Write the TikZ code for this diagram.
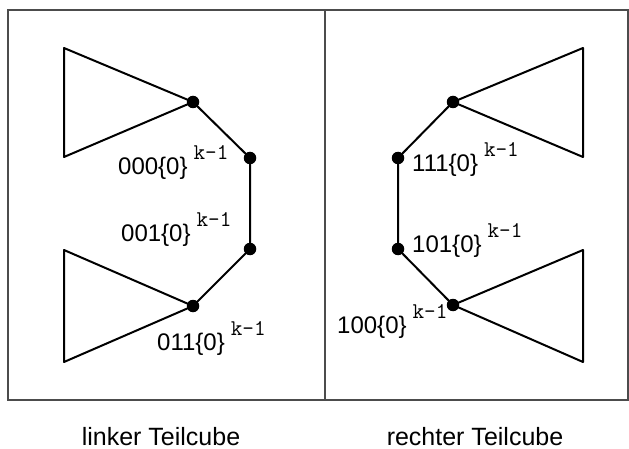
\documentclass[tikz,border=0pt]{standalone}
\usepackage{fontspec}
\setmainfont{Liberation Sans}
\newcommand{\lbl}[1]{#1\hspace{6pt}\raisebox{15pt}{\ttfamily\fontsize{22.5}{22.5}\selectfont k-1}}
\begin{document}
\begin{tikzpicture}[x=1pt,y=-1pt,
  edge/.style={line width=2pt, line join=round},
  frame/.style={line width=1.3pt, draw=black!70},
  dot/.style={circle, fill=black, inner sep=0pt, minimum size=12.5pt},
  lab/.style={anchor=base west, inner sep=0pt, font=\fontsize{24}{24}\selectfont},
  captext/.style={anchor=base, inner sep=0pt, font=\fontsize{25}{25}\selectfont}]
\useasboundingbox (0,0) rectangle (629,449);
% frame
\coordinate (fa) at (8,10);
\coordinate (fb) at (628,400);
\coordinate (ma) at (325,10);
\coordinate (mb) at (325,400);
\draw[frame] (fa) rectangle (fb);
\draw[frame] (ma) -- (mb);
% left part
\coordinate (a1) at (193,102);
\coordinate (a2) at (250,158);
\coordinate (a3) at (250,249);
\coordinate (a4) at (193,306);
\coordinate (lt1) at (64,48);
\coordinate (lt2) at (64,157);
\coordinate (lb1) at (64,250);
\coordinate (lb2) at (64,362);
\draw[edge] (lt1) -- (a1) -- (lt2) -- cycle;
\draw[edge] (lb1) -- (a4) -- (lb2) -- cycle;
\draw[edge] (a1) -- (a2) -- (a3) -- (a4);
\foreach \p in {a1,a2,a3,a4} \node[dot] (n\p) at (\p) {};
% right part
\coordinate (b1) at (453,102);
\coordinate (b2) at (398,158);
\coordinate (b3) at (398,249);
\coordinate (b4) at (453,305);
\coordinate (rt1) at (583,48);
\coordinate (rt2) at (583,157);
\coordinate (rb1) at (583,250);
\coordinate (rb2) at (583,362);
\draw[edge] (rt1) -- (b1) -- (rt2) -- cycle;
\draw[edge] (rb1) -- (b4) -- (rb2) -- cycle;
\draw[edge] (b1) -- (b2) -- (b3) -- (b4);
\foreach \p in {b1,b2,b3,b4} \node[dot] (n\p) at (\p) {};
% labels
\node[lab] (l000) at (118,175) {\lbl{000\{0\}}};
\node[lab] (l001) at (121,241) {\lbl{001\{0\}}};
\node[lab] (l011) at (157,350) {\lbl{011\{0\}}};
\node[lab] (l111) at (412,172) {\lbl{111\{0\}}};
\node[lab] (l101) at (412,252) {\lbl{101\{0\}}};
\node[lab] (l100) at (337,333) {\lbl{100\{0\}}};
% captions
\node[captext] (cl) at (161,445) {linker Teilcube};
\node[captext] (cr) at (475,445) {rechter Teilcube};
\end{tikzpicture}
\end{document}
